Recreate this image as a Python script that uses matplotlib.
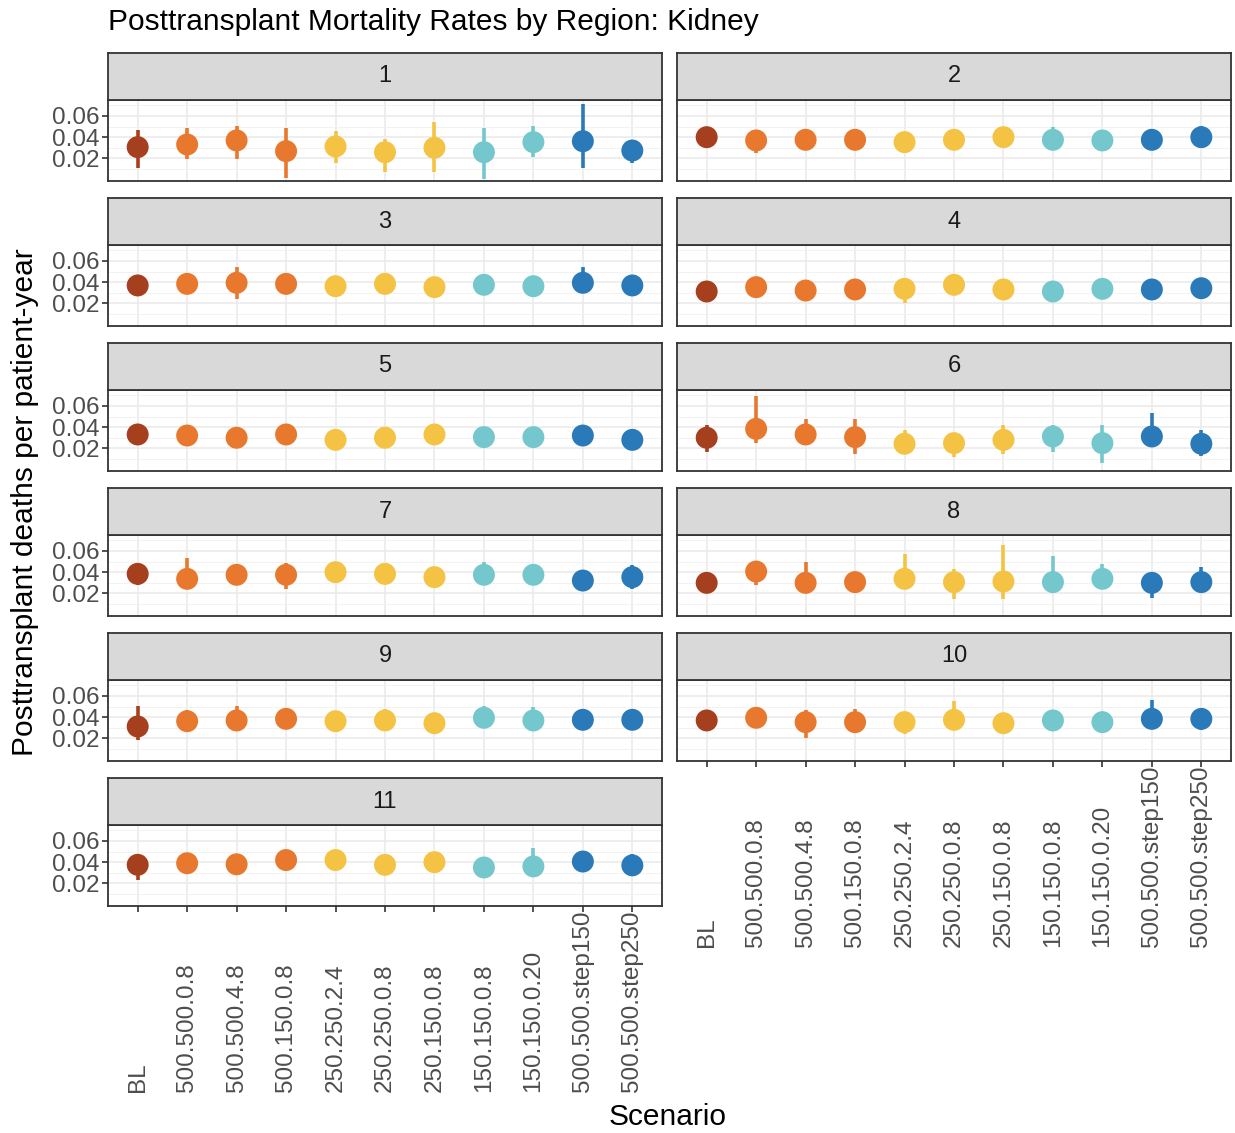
import matplotlib
matplotlib.use("Agg")
import matplotlib.pyplot as plt
from matplotlib.ticker import FixedLocator

plt.rcParams['font.family'] = ['Liberation Sans', 'DejaVu Sans']

scenarios = ["BL", "500.500.0.8", "500.500.4.8", "500.150.0.8", "250.250.2.4",
             "250.250.0.8", "250.150.0.8", "150.150.0.8", "150.150.0.20",
             "500.500.step150", "500.500.step250"]
scenario_colors = ["#A63F1E", "#E8782E", "#E8782E", "#E8782E", "#F5C344",
                   "#F5C344", "#F5C344", "#74C8CD", "#74C8CD", "#2A79B8", "#2A79B8"]
regions = ["1", "2", "3", "4", "5", "6", "7", "8", "9", "10", "11"]

# point estimate per region (rows) and scenario (columns)
est = [
    [0.0306, 0.0331, 0.0369, 0.0268, 0.0312, 0.0258, 0.0300, 0.0258, 0.0353, 0.0362, 0.0274],
    [0.0400, 0.0369, 0.0375, 0.0375, 0.0353, 0.0375, 0.0400, 0.0375, 0.0369, 0.0375, 0.0400],
    [0.0369, 0.0384, 0.0394, 0.0384, 0.0362, 0.0384, 0.0353, 0.0375, 0.0362, 0.0394, 0.0369],
    [0.0312, 0.0353, 0.0321, 0.0331, 0.0337, 0.0375, 0.0331, 0.0312, 0.0337, 0.0331, 0.0343],
    [0.0331, 0.0321, 0.0300, 0.0331, 0.0280, 0.0300, 0.0331, 0.0306, 0.0306, 0.0321, 0.0280],
    [0.0300, 0.0384, 0.0331, 0.0306, 0.0243, 0.0249, 0.0280, 0.0312, 0.0249, 0.0312, 0.0243],
    [0.0384, 0.0337, 0.0375, 0.0375, 0.0400, 0.0384, 0.0353, 0.0375, 0.0375, 0.0321, 0.0353],
    [0.0299, 0.0406, 0.0299, 0.0306, 0.0337, 0.0306, 0.0312, 0.0306, 0.0337, 0.0299, 0.0306],
    [0.0312, 0.0362, 0.0369, 0.0384, 0.0362, 0.0369, 0.0343, 0.0394, 0.0369, 0.0375, 0.0375],
    [0.0369, 0.0394, 0.0353, 0.0353, 0.0353, 0.0375, 0.0343, 0.0369, 0.0353, 0.0384, 0.0384],
    [0.0375, 0.0390, 0.0380, 0.0420, 0.0420, 0.0375, 0.0400, 0.0350, 0.0360, 0.0406, 0.0370],
]
lower = [
    [0.0107, 0.0195, 0.0195, 0.0013, 0.0154, 0.0069, 0.0069, 0.0006, 0.0217, 0.0107, 0.0154],
    [0.0340, 0.0255, 0.0320, 0.0320, 0.0300, 0.0320, 0.0345, 0.0320, 0.0315, 0.0320, 0.0345],
    [0.0310, 0.0320, 0.0240, 0.0320, 0.0300, 0.0320, 0.0290, 0.0310, 0.0300, 0.0320, 0.0310],
    [0.0270, 0.0300, 0.0270, 0.0280, 0.0200, 0.0320, 0.0280, 0.0260, 0.0290, 0.0280, 0.0290],
    [0.0290, 0.0280, 0.0260, 0.0290, 0.0240, 0.0260, 0.0290, 0.0260, 0.0260, 0.0280, 0.0240],
    [0.0164, 0.0249, 0.0240, 0.0142, 0.0164, 0.0117, 0.0142, 0.0164, 0.0060, 0.0227, 0.0132],
    [0.0280, 0.0249, 0.0320, 0.0243, 0.0345, 0.0330, 0.0300, 0.0310, 0.0310, 0.0249, 0.0243],
    [0.0250, 0.0283, 0.0220, 0.0260, 0.0260, 0.0146, 0.0146, 0.0200, 0.0280, 0.0158, 0.0250],
    [0.0186, 0.0300, 0.0274, 0.0330, 0.0310, 0.0310, 0.0290, 0.0310, 0.0290, 0.0320, 0.0310],
    [0.0320, 0.0340, 0.0200, 0.0300, 0.0243, 0.0310, 0.0290, 0.0310, 0.0250, 0.0320, 0.0280],
    [0.0235, 0.0330, 0.0330, 0.0360, 0.0360, 0.0310, 0.0340, 0.0300, 0.0290, 0.0350, 0.0310],
]
upper = [
    [0.0469, 0.0488, 0.0510, 0.0488, 0.0457, 0.0384, 0.0540, 0.0488, 0.0510, 0.0709, 0.0330],
    [0.0500, 0.0440, 0.0430, 0.0430, 0.0410, 0.0480, 0.0450, 0.0500, 0.0420, 0.0430, 0.0510],
    [0.0430, 0.0450, 0.0540, 0.0450, 0.0420, 0.0460, 0.0410, 0.0440, 0.0420, 0.0540, 0.0430],
    [0.0360, 0.0410, 0.0370, 0.0380, 0.0390, 0.0430, 0.0380, 0.0360, 0.0390, 0.0380, 0.0400],
    [0.0370, 0.0360, 0.0340, 0.0370, 0.0320, 0.0340, 0.0370, 0.0350, 0.0350, 0.0360, 0.0320],
    [0.0425, 0.0690, 0.0480, 0.0480, 0.0375, 0.0320, 0.0425, 0.0416, 0.0416, 0.0532, 0.0369],
    [0.0488, 0.0532, 0.0440, 0.0488, 0.0460, 0.0440, 0.0410, 0.0494, 0.0440, 0.0400, 0.0470],
    [0.0350, 0.0480, 0.0500, 0.0360, 0.0573, 0.0431, 0.0652, 0.0551, 0.0479, 0.0360, 0.0447],
    [0.0510, 0.0469, 0.0510, 0.0440, 0.0420, 0.0480, 0.0400, 0.0510, 0.0500, 0.0430, 0.0460],
    [0.0420, 0.0450, 0.0463, 0.0480, 0.0430, 0.0557, 0.0400, 0.0460, 0.0420, 0.0564, 0.0440],
    [0.0450, 0.0450, 0.0440, 0.0490, 0.0490, 0.0440, 0.0470, 0.0410, 0.0530, 0.0460, 0.0480],
]

W, H = 1235, 1133
fig = plt.figure(figsize=(W / 100, H / 100), dpi=100)

col_left = [108, 677]
panel_w = 554
dark = "#333333"
xs = list(range(1, len(scenarios) + 1))

for k, reg in enumerate(regions):
    row, col = k // 2, k % 2
    top = 100 + 145 * row
    ax = fig.add_axes([col_left[col] / W, 1 - (top + 81) / H, panel_w / W, 81 / H])
    sax = fig.add_axes([col_left[col] / W, 1 - top / H, panel_w / W, 47 / H])

    # strip
    sax.set_facecolor("#D9D9D9")
    sax.set_xticks([])
    sax.set_yticks([])
    for s in sax.spines.values():
        s.set_color(dark)
        s.set_linewidth(1.3)
    sax.text(0.5, 0.5, reg, ha="center", va="center", fontsize=17, color="#1A1A1A",
             transform=sax.transAxes)

    # panel
    ax.vlines(xs, lower[k], upper[k], colors=scenario_colors, linewidth=2.6, zorder=3)
    ax.scatter(xs, est[k], s=250, c=scenario_colors, edgecolors="none", zorder=4)

    ax.set_xlim(0.4, 11.6)
    ax.set_ylim(-0.0014, 0.0751)
    ax.set_yticks([0.02, 0.04, 0.06])
    ax.yaxis.set_minor_locator(FixedLocator([0.01, 0.03, 0.05, 0.07]))
    ax.set_xticks(xs)
    ax.grid(True, which="major", color="#EBEBEB", linewidth=1.2, zorder=0)
    ax.grid(True, which="minor", axis="y", color="#F2F2F2", linewidth=0.7, zorder=0)
    ax.set_axisbelow(True)
    for s in ax.spines.values():
        s.set_color(dark)
        s.set_linewidth(1.3)
    ax.tick_params(which="minor", length=0)

    if col == 0:
        ax.set_yticklabels(["0.02", "0.04", "0.06"])
        ax.tick_params(axis="y", length=4, width=1.2, color=dark, labelsize=17.5,
                       labelcolor="#4D4D4D", pad=2)
    else:
        ax.tick_params(axis="y", length=0, labelleft=False)

    if reg in ("10", "11"):
        ax.set_xticklabels(scenarios, rotation=90, va="bottom", ha="center")
        ax.tick_params(axis="x", length=4, width=1.2, color=dark, labelsize=17.5,
                       labelcolor="#4D4D4D", pad=(189 - 4) * 0.72 - 3)
    else:
        ax.tick_params(axis="x", length=0, labelbottom=False)

fig.text(108 / W, 1 - 22 / H, "Posttransplant Mortality Rates by Region: Kidney",
         ha="left", va="center", fontsize=21.5, color="black")
fig.text(25 / W, 1 - 502 / H, "Posttransplant deaths per patient-year",
         rotation=90, ha="center", va="center", fontsize=21.5, color="black")
fig.text(668 / W, 1 - 1117 / H, "Scenario", ha="center", va="center",
         fontsize=21.5, color="black")

fig.savefig("out.png", dpi=100)
